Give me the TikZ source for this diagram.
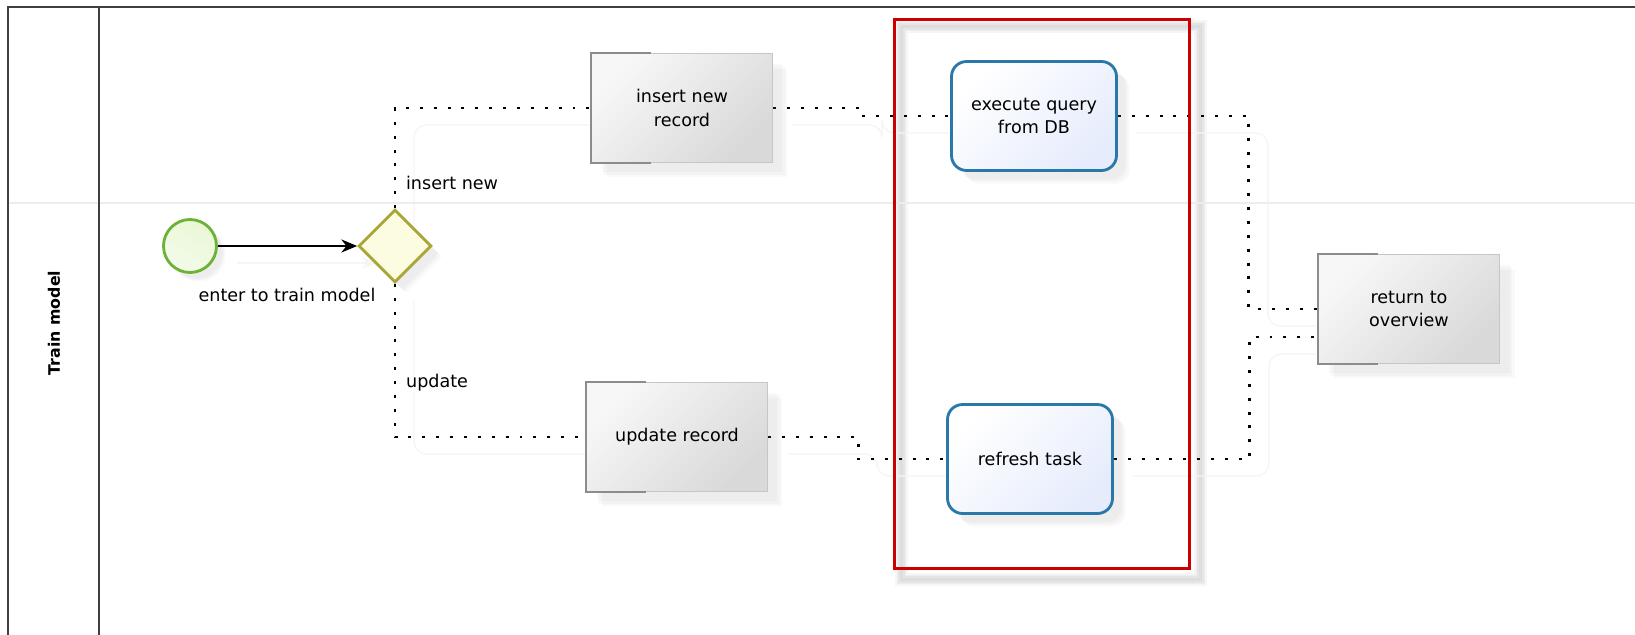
\documentclass[tikz,border=0pt]{standalone}
\usepackage{fontspec}
\setmainfont{DejaVu Sans}
\usetikzlibrary{arrows.meta, shapes.geometric, calc, backgrounds, positioning, shadows}
\usepackage{xcolor}

\definecolor{edgegray}{HTML}{C6C6C6}
\definecolor{darkedge}{HTML}{8C8C8C}
\definecolor{actblue}{HTML}{2A78AA}
\definecolor{actfill}{HTML}{E6ECFC}
\definecolor{startgreen}{HTML}{6BB236}
\definecolor{startfill}{HTML}{E9F7D6}
\definecolor{gwolive}{HTML}{A9A536}
\definecolor{gwfill}{HTML}{FCFCE0}
\definecolor{grpred}{HTML}{CC0000}

\tikzset{
  every node/.style={font=\fontsize{10}{13.5}\selectfont},
  softshadow/.style={
    drop shadow={shadow xshift=#1*0.8, shadow yshift=-#1*0.8, opacity=0.05},
    drop shadow={shadow xshift=#1, shadow yshift=-#1, opacity=0.05},
    drop shadow={shadow xshift=#1*1.2, shadow yshift=-#1*1.2, opacity=0.05}},
  task/.style={draw=edgegray, line width=0.6pt, minimum width=3.62cm, minimum height=2.18cm,
    align=center, top color=white!97!black, bottom color=black!15, shading angle=45,
    softshadow=0.25cm},
  act/.style={draw=actblue, line width=1.6pt, rounded corners=0.3cm, minimum width=3.3cm,
    minimum height=2.18cm, align=center, top color=white, bottom color=actfill, shading angle=45,
    softshadow=0.22cm},
  startev/.style={circle, draw=startgreen, line width=1.6pt, minimum size=1.06cm, inner sep=0pt,
    left color=startfill, right color=startfill!50, shading angle=-30, softshadow=0.15cm},
  gateway/.style={diamond, draw=gwolive, line width=1.6pt, minimum width=1.46cm, minimum height=1.46cm,
    inner sep=0pt, fill=gwfill, softshadow=0.18cm},
  grp/.style={draw=grpred, line width=1.7pt, minimum width=5.92cm, minimum height=11cm},
  flow/.style={line width=1.7pt, dash pattern=on 1.7pt off 6.2pt},
  ghost/.style={draw=black!4, line width=0.8pt, rounded corners=0.25cm},
  lbl/.style={inner sep=1pt}
}

\begin{document}
\begin{tikzpicture}[x=0.02cm, y=-0.02cm]
  \useasboundingbox (0,0) rectangle (1635,635);

  % pool and lane
  \draw[black!7, line width=0.6pt] (8,203) -- (1635,203);
  \draw[black!75, line width=1.3pt] (8,635) -- (8,7) -- (1635,7);
  \draw[black!75, line width=1.3pt] (99,7) -- (99,635);
  \node[rotate=90, font=\fontsize{9}{11}\selectfont\bfseries] (lane) at (54,323) {Train model};

  % events and gateway
  \node[startev] (start) at (190,246) {};
  \node[gateway] (gw) at (395,246) {};
  \node[lbl] (lstart) at (287,295) {enter to train model};
  \node[lbl, anchor=west] (lins) at (404,183) {insert new};
  \node[lbl, anchor=west] (lupd) at (404,383) {update};

  % tasks
  \node[task] (ins) at (682,108) {insert new\\record};
  \node[task] (upd) at (677,437) {update record};
  \node[act] (exq) at (1034,116) {execute query\\from DB};
  \node[act] (ref) at (1030,459) {refresh task};
  \node[task] (ret) at (1409,309) {return to\\overview};

  \foreach \t in {ins,upd,ret}
    \draw[darkedge, line width=0.8pt] ($(\t.north west)+(60,0)$) -- (\t.north west)
      -- (\t.south west) -- ($(\t.south west)+(60,0)$);

  % group
  \node[grp] (grp) at (1042,294) {};

  \begin{scope}[on background layer]
    \foreach \w in {7,5,3.5,2}
      \draw[black, opacity=0.035, line width=\w pt] ($(grp.north west)+(9,9)$) rectangle ($(grp.south east)+(9,9)$);
    % faint shadows of the flows
    \begin{scope}[ghost, transform canvas={shift={(19,17)}}]
      \draw[-{Stealth[length=8pt, width=7pt]}] (start) -- (gw);
      \draw (gw.north) |- (ins.west);
      \draw (gw.south) |- (upd.west);
      \draw (ins.east) -- ++(90,0) |- (exq.west);
      \draw (upd.east) -- ++(90,0) |- (ref.west);
      \draw (exq.east) -- ++(131,0) |- (ret.west);
      \draw (ref.east) -- ++(136,0) |- ($(ret.west)+(0,28)$);
    \end{scope}
    % flows
    \draw[flow] (gw.north) |- (ins.west);
    \draw[flow] (gw.south) |- (upd.west);
    \draw[flow] (ins.east) -- ++(90,0) |- (exq.west);
    \draw[flow] (upd.east) -- ++(90,0) |- (ref.west);
    \draw[flow] (exq.east) -- ++(131,0) |- (ret.west);
    \draw[flow] (ref.east) -- ++(136,0) |- ($(ret.west)+(0,28)$);
  \end{scope}

  \draw[-{Stealth[length=9pt, width=7.5pt]}, line width=0.9pt] (start) -- (gw);
\end{tikzpicture}
\end{document}
